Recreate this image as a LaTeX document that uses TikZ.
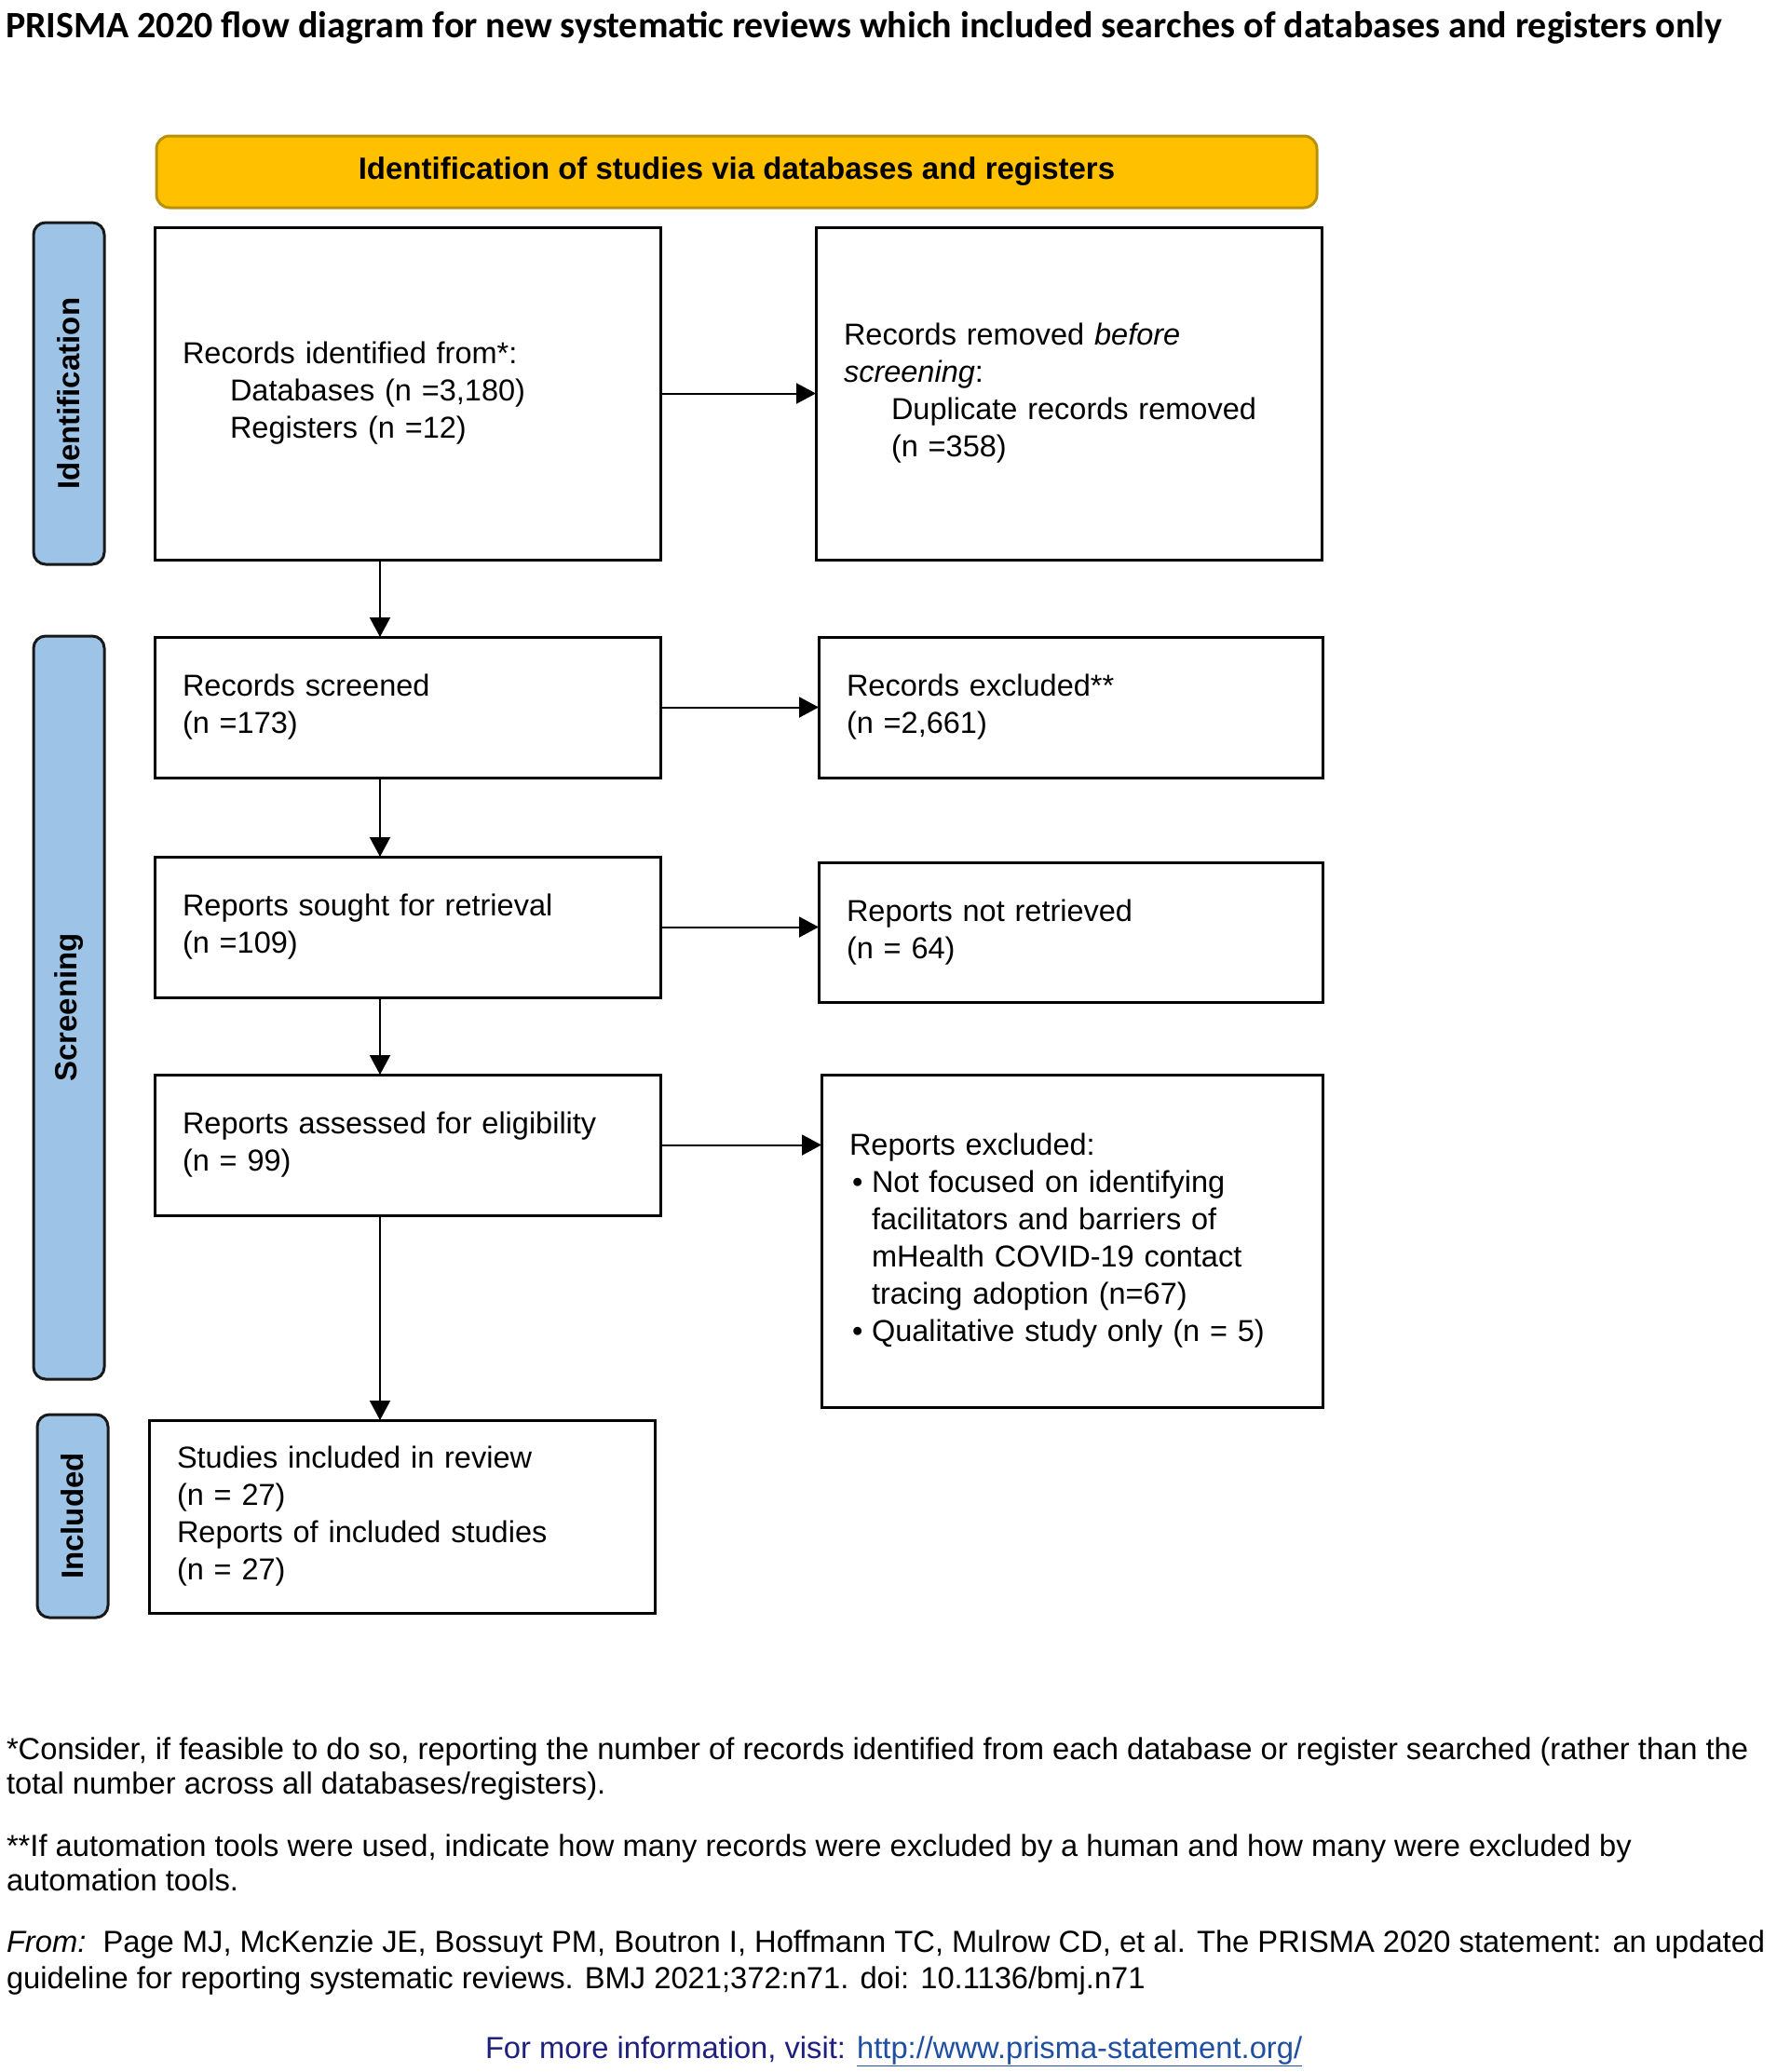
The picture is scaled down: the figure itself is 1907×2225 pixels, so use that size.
\documentclass[tikz,border=0pt]{standalone}
\usepackage{fontspec}
\setmainfont{Liberation Sans}
\newfontfamily\titlefont{Carlito}
\usetikzlibrary{arrows.meta,calc}
\definecolor{bannerfill}{HTML}{FFC000}
\definecolor{bannerdraw}{HTML}{B8900A}
\definecolor{labelfill}{HTML}{9DC3E6}
\definecolor{navy}{HTML}{1F1F80}
\definecolor{linkblue}{HTML}{1F4FA0}
\begin{document}
\begin{tikzpicture}[x=1pt,y=-1pt,
  every node/.style={font=\fontsize{32.5}{40}\selectfont, inner sep=0pt, outer sep=0pt},
  box/.style={draw, line width=3pt, inner xsep=30pt, inner ysep=0pt, align=left, anchor=north west},
  lane/.style={draw=black!90, line width=3pt, fill=labelfill, rounded corners=13pt, rotate=90,
    font=\fontsize{33}{38}\selectfont\bfseries, inner sep=0pt, anchor=center},
  arr/.style={line width=2pt, -{Triangle[length=21pt,width=22pt]}},
  foot/.style={anchor=base west, font=\fontsize{32.7}{37}\selectfont}]
\useasboundingbox (0,0) rectangle (1907,2225);
\fill[white] (0,0) rectangle (1907,2225);

\node[anchor=base west, font=\titlefont\bfseries\fontsize{40}{46}\selectfont] (title) at (6,40)
  {PRISMA 2020 flow diagram for new systematic reviews which included searches of databases and registers only};

\node[draw=bannerdraw, fill=bannerfill, line width=3pt, rounded corners=14pt,
  minimum width=1246pt, minimum height=77pt, font=\bfseries\fontsize{33}{38}\selectfont] (banner) at (791,184.5)
  {Identification of studies via databases and registers};

\node[lane, minimum width=367pt, minimum height=76pt] (lid) at (74,422.5) {Identification};
\node[lane, minimum width=798pt, minimum height=76pt] (lscr) at (74,1082) {Screening};
\node[lane, minimum width=218pt, minimum height=76pt] (linc) at (78,1628) {Included};

\node[box, text width=483pt, minimum height=357pt] (ident) at (166,244)
  {Records identified from*:\\ \hspace*{51pt}Databases (n =3,180)\\ \hspace*{51pt}Registers (n =12)};
\node[box, text width=483pt, minimum height=357pt] (removed) at (876,244)
  {Records removed \textit{before}\\ \textit{screening}:\\ \hspace*{51pt}Duplicate records removed\\ \hspace*{51pt}(n =358)};

\node[box, text width=483pt, minimum height=151pt] (scr) at (166,684)
  {Records screened\\ (n =173)};
\node[box, text width=481pt, minimum height=151pt] (scrx) at (879,684)
  {Records excluded**\\ (n =2,661)};

\node[box, text width=483pt, minimum height=151pt] (sought) at (166,920)
  {Reports sought for retrieval\\ (n =109)};
\node[box, text width=481pt, minimum height=150pt] (notret) at (879,926)
  {Reports not retrieved\\ (n = 64)};

\node[box, text width=483pt, minimum height=151pt] (assess) at (166,1154)
  {Reports assessed for eligibility\\ (n = 99)};
\node[box, text width=478pt, minimum height=357pt] (rexcl) at (882,1154)
  {Reports excluded:\\
   \hspace*{3pt}\makebox[21pt][l]{•}Not focused on identifying\\
   \hspace*{24pt}facilitators and barriers of\\
   \hspace*{24pt}mHealth COVID-19 contact\\
   \hspace*{24pt}tracing adoption (n=67)\\
   \hspace*{3pt}\makebox[21pt][l]{•}Qualitative study only (n = 5)};

\node[box, text width=483pt, minimum height=207pt] (studies) at (160,1525)
  {Studies included in review\\ (n = 27)\\ Reports of included studies\\ (n = 27)};

\coordinate (vx) at (408,0);
\draw[arr] (ident.south -| vx) -- (scr.north -| vx);
\draw[arr] (scr.south -| vx) -- (sought.north -| vx);
\draw[arr] (sought.south -| vx) -- (assess.north -| vx);
\draw[arr] (assess.south -| vx) -- (studies.north -| vx);

\draw[arr] (ident.east) -- (removed.west);
\draw[arr] (scr.east) -- (scrx.west);
\draw[arr] (sought.east) -- (sought.east -| notret.west);
\draw[arr] (assess.east) -- (assess.east -| rexcl.west);

\node[foot] (fn1a) at (7,1889) {*Consider, if feasible to do so, reporting the number of records identified from each database or register searched (rather than the};
\node[foot] (fn1b) at (7,1926) {total number across all databases/registers).};
\node[foot] (fn2a) at (7,1993) {**If automation tools were used, indicate how many records were excluded by a human and how many were excluded by};
\node[foot] (fn2b) at (7,2030) {automation tools.};
\node[foot] (fn3a) at (7,2096) {\textit{From:}\ \ Page MJ, McKenzie JE, Bossuyt PM, Boutron I, Hoffmann TC, Mulrow CD, et al. The PRISMA 2020 statement: an updated};
\node[foot] (fn3b) at (7,2135) {guideline for reporting systematic reviews. BMJ 2021;372:n71. doi: 10.1136/bmj.n71};
\node[foot, text=navy] (more) at (521,2210) {For more information, visit: \textcolor{linkblue}{\underline{http://www.prisma-statement.org/}}};
\end{tikzpicture}
\end{document}
